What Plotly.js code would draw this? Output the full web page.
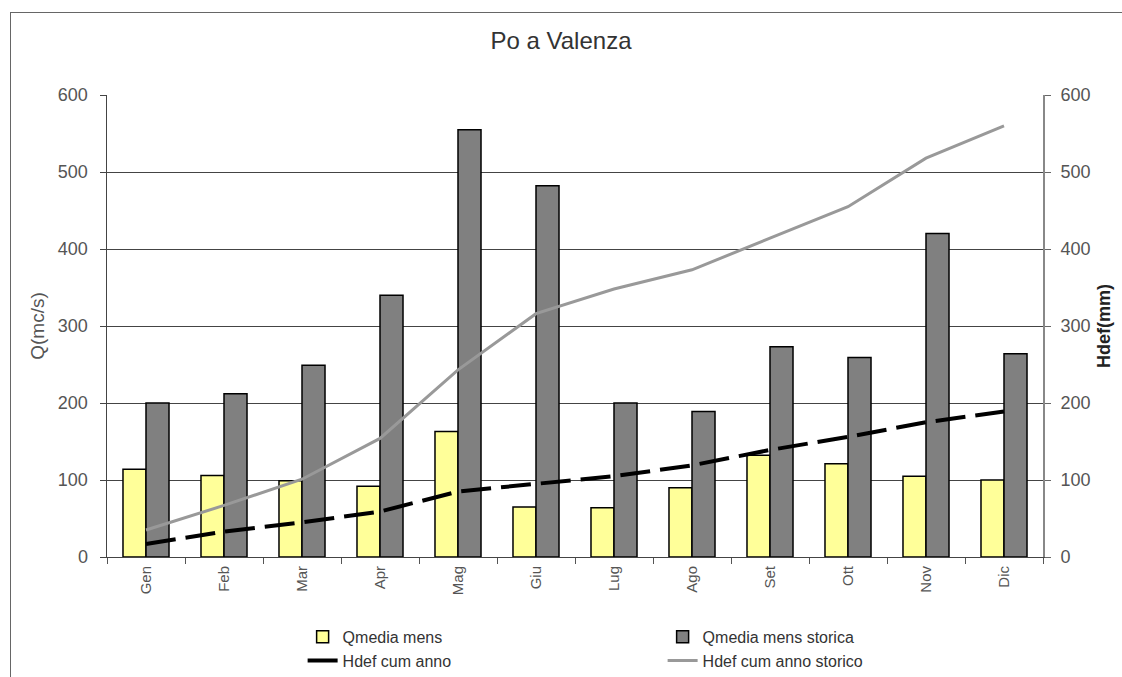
<!DOCTYPE html>
<html>
<head>
<meta charset="utf-8">
<script src="https://cdn.plot.ly/plotly-3.0.1.min.js"></script>
<style>
html,body{margin:0;padding:0;background:#fff;overflow:hidden;}
#frame{position:absolute;left:10px;top:12px;width:1130px;height:700px;border:1px solid #666;box-sizing:border-box;}
#chart{position:absolute;left:0;top:0;width:1122px;height:677px;}
</style>
</head>
<body>
<div id="frame"></div>
<div id="chart"></div>
<script>
const months = ["Gen","Feb","Mar","Apr","Mag","Giu","Lug","Ago","Set","Ott","Nov","Dic"];
const qMediaMens = [114,106,99,92,163,65,64,90,132,121,105,100];
const qMediaMensStorica = [200,212,249,340,555,482,200,189,273,259,420,264];
const hdefCumAnno = [17,33,45,59,85,95,105,119,139,156,175,189];
const hdefCumAnnoStorico = [35,67,101,154,243,316,348,373,414,455,518,560];

const font = "Liberation Sans, Arial, sans-serif";
const traces = [
  {type:"bar", name:"Qmedia mens", x:months, y:qMediaMens, yaxis:"y",
   marker:{color:"#FFFF99", line:{color:"#000", width:1.5}}},
  {type:"bar", name:"Qmedia mens storica", x:months, y:qMediaMensStorica, yaxis:"y",
   marker:{color:"#808080", line:{color:"#000", width:1.5}}},
  {type:"scatter", mode:"lines", name:"Hdef cum anno", x:months, y:hdefCumAnno, yaxis:"y2",
   line:{color:"#000", width:4, dash:"30px,10px"}},
  {type:"scatter", mode:"lines", name:"Hdef cum anno storico", x:months, y:hdefCumAnnoStorico, yaxis:"y2",
   line:{color:"#999", width:3}}
];
const layout = {
  width:1122, height:677,
  margin:{l:107, r:79, t:95, b:120, autoexpand:false},
  paper_bgcolor:"rgba(0,0,0,0)", plot_bgcolor:"#fff",
  font:{family:font, size:16, color:"#333"},
  title:{text:"Po a Valenza", x:0.5, xanchor:"center", y:0.94, yanchor:"middle", font:{size:24, color:"#333", family:font}},
  barmode:"group", bargap:0.41, bargroupgap:0,
  showlegend:true,
  legend:{orientation:"h", x:0.209, xanchor:"left", y:-0.136, yanchor:"top",
          entrywidth:315, traceorder:"normal", font:{size:16, color:"#333"},
          bgcolor:"rgba(0,0,0,0)", tracegroupgap:0},
  xaxis:{type:"category", tickangle:-90, tickson:"boundaries", ticks:"outside", ticklen:6,
         tickcolor:"#555", showline:true, linecolor:"#444", linewidth:1, automargin:false,
         tickfont:{size:15, color:"#555"}, showgrid:false, ticklabelstandoff:2},
  yaxis:{range:[0,600], dtick:100, ticks:"outside", ticklen:6, tickcolor:"#444", automargin:false,
         showline:true, linecolor:"#444", linewidth:1.5, ticklabelstandoff:8,
         showgrid:true, gridcolor:"#444", gridwidth:1, zeroline:false,
         tickfont:{size:18, color:"#555"},
         title:{text:"Q(mc/s)", font:{size:19, color:"#555"}, standoff:8}},
  yaxis2:{range:[0,600], dtick:100, overlaying:"y", side:"right", ticks:"outside", ticklen:6, automargin:false,
          tickcolor:"#666", showline:true, linecolor:"#888", linewidth:2, showgrid:false, zeroline:false,
          ticklabelstandoff:6,
          tickfont:{size:18, color:"#555"},
          title:{text:"<b>Hdef(mm)</b>", font:{size:18, color:"#222"}, standoff:8}}
};
Plotly.newPlot("chart", traces, layout, {staticPlot:true, displayModeBar:false});
</script>
</body>
</html>
